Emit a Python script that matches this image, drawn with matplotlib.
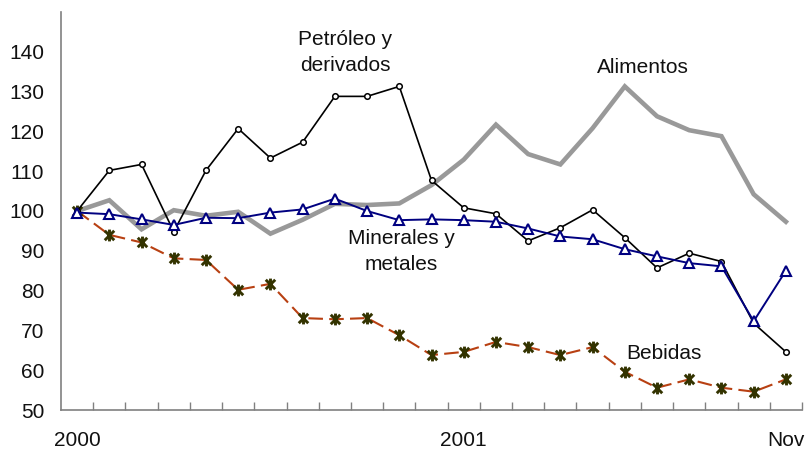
import matplotlib.pyplot as plt
from matplotlib.path import Path
from matplotlib.ticker import FixedLocator

# Monthly index values, Jan 2000 .. Nov 2001
petroleo = [100, 110.2, 111.7, 94.8, 110.2, 120.7, 113.3, 117.3, 128.8, 128.8, 131.3, 107.7,
            100.8, 99.3, 92.5, 95.8, 100.3, 93.3, 85.7, 89.4, 87.3, 71.8, 64.6]
minerales = [99.6, 99.2, 97.9, 96.5, 98.3, 98.2, 99.6, 100.4, 103.1, 100.0, 97.7, 97.9,
             97.7, 97.3, 95.6, 93.6, 92.9, 90.4, 88.6, 86.9, 86.1, 72.3, 85.0]
bebidas = [100, 94.0, 92.1, 88.1, 87.7, 80.2, 81.7, 73.1, 72.8, 73.1, 68.8, 63.8,
           64.6, 67.1, 65.8, 63.8, 65.8, 59.6, 55.6, 57.7, 55.6, 54.6, 57.7]
alimentos = [100, 102.7, 95.4, 100.2, 98.8, 99.8, 94.3, 97.8, 101.8, 101.5, 101.9, 106.5,
             112.9, 121.7, 114.3, 111.7, 120.8, 131.3, 123.8, 120.3, 118.8, 104.2, 97.3]

xlabels = {0: "2000", 12: "2001", 22: "Nov"}
yticks = [50, 60, 70, 80, 90, 100, 110, 120, 130, 140]

plt.rcParams['font.family'] = ['Liberation Sans', 'DejaVu Sans']

# Excel-style star marker: an x with a vertical bar
star = Path([(-1, -1), (1, 1), (-1, 1), (1, -1), (0, -1.25), (0, 1.25)],
            [Path.MOVETO, Path.LINETO, Path.MOVETO, Path.LINETO, Path.MOVETO, Path.LINETO])

fig = plt.figure(figsize=(8.1, 4.51), dpi=100)
ax = fig.add_axes([61 / 810, 41 / 451, 741 / 810, 398 / 451])

x = list(range(len(petroleo)))

ax.plot(x, alimentos, color='#999999', lw=3.3, solid_joinstyle='miter', zorder=2)
ax.plot(x, bebidas, color='#B84012', lw=1.5, dashes=(7, 3), zorder=3,
        marker=star, ms=8.5, mec='#333300', mew=2.1)
ax.plot(x, petroleo, color='black', lw=1.2, zorder=4,
        marker='o', ms=4, mfc='white', mec='black', mew=1.1)
ax.plot(x, minerales, color='#000080', lw=1.4, zorder=5,
        marker='^', ms=7.5, mfc='white', mec='#000080', mew=1.5)

ax.set_xlim(-0.5, len(x) - 0.5)
ax.set_ylim(50, 150)

ax.set_yticks(yticks)
ax.tick_params(axis='y', length=0, pad=12, labelsize=15, labelcolor='#111111')

ax.set_xticks(list(xlabels.keys()))
ax.set_xticklabels(list(xlabels.values()))
ax.xaxis.set_minor_locator(FixedLocator([k + 0.5 for k in range(len(x))]))
ax.tick_params(axis='x', which='major', length=0, pad=15, labelsize=15, labelcolor='#111111')
ax.tick_params(axis='x', which='minor', direction='in', length=6, color='#808080', width=1)

for side in ['top', 'right']:
    ax.spines[side].set_visible(False)
for side in ['left', 'bottom']:
    ax.spines[side].set_color('#808080')
    ax.spines[side].set_linewidth(1.2)

txt = dict(fontsize=15, color='#111111', ha='center', va='center', linespacing=1.45)
ax.text(8.32, 139.8, "Petróleo y\nderivados", **txt)
ax.text(17.57, 136.1, "Alimentos", **txt)
ax.text(10.06, 89.8, "Minerales y\nmetales", **txt)
ax.text(18.2, 64.25, "Bebidas", **txt)

fig.savefig("out.png", dpi=100)
